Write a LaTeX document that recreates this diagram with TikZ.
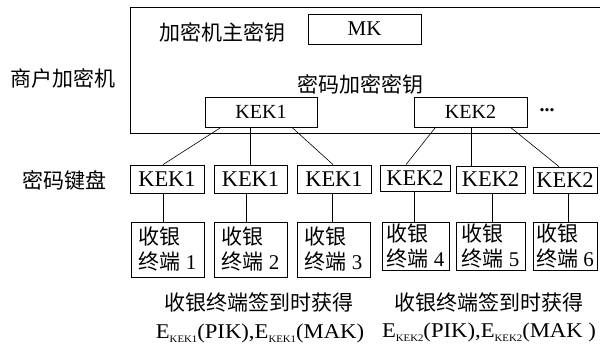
\documentclass[tikz,border=0pt]{standalone}
\usepackage{fontspec}
\usepackage{graphicx}
\setmainfont{Liberation Serif}
\newfontfamily\cjk{Noto Sans CJK SC}
\begin{document}
\begin{tikzpicture}[x=1pt,y=-1pt,
  frame/.style={line width=0.8pt},
  kbox/.style={draw, line width=0.8pt, inner sep=0pt, font=\fontsize{20}{24}\selectfont},
  pbox/.style={kbox, font=\fontsize{22.5}{26}\selectfont},
  tbox/.style={draw, line width=0.8pt, inner sep=0pt, align=left, font=\fontsize{21}{25}\selectfont},
  lbl/.style={inner sep=0pt, font=\cjk\fontsize{21}{25}\selectfont},
  elbl/.style={inner sep=0pt, font=\fontsize{21}{25}\selectfont},
  conn/.style={line width=0.6pt}]
\useasboundingbox (0,0) rectangle (600,347);
% frame of the merchant encryptor
\draw[frame] (600,7) -- (130,7) -- (130,133) -- (600,133);
% labels
\node[lbl] (lmerchant) at (63,78) {商户加密机};
\node[lbl] (lmaster) at (222,32) {加密机主密钥};
\node[lbl] (lkek) at (360,84) {密码加密密钥};
\node[lbl] (lpad) at (65,180) {密码键盘};
% top boxes
\node[kbox, minimum width=113pt, minimum height=30pt, font=\fontsize{21}{24}\selectfont] (mk) at (364.5,29) {MK};
\node[kbox, minimum width=112pt, minimum height=30pt] (k1) at (261,112) {KEK1};
\node[kbox, minimum width=113pt, minimum height=30pt] (k2) at (470.5,112) {KEK2};
\node[inner sep=0pt, font=\bfseries\fontsize{20}{24}\selectfont] (dots) at (547,110) {...};
% pin pad boxes
\node[pbox, minimum width=74pt, minimum height=28pt] (b1) at (167,179) {KEK1};
\node[pbox, minimum width=73pt, minimum height=28pt] (b2) at (250.5,179) {KEK1};
\node[pbox, minimum width=74pt, minimum height=28pt] (b3) at (334,179) {KEK1};
\node[pbox, minimum width=70pt, minimum height=26pt] (b4) at (415,178) {KEK2};
\node[pbox, minimum width=69pt, minimum height=27pt] (b5) at (490.5,179.5) {KEK2};
\node[pbox, minimum width=64pt, minimum height=26pt] (b6) at (565,180) {KEK2};
% terminals
\node[tbox, minimum width=73pt, minimum height=55pt] (t1) at (167.5,249.5) {{\cjk 收银}\\{\cjk 终端} 1};
\node[tbox, minimum width=73pt, minimum height=55pt] (t2) at (250.5,249.5) {{\cjk 收银}\\{\cjk 终端} 2};
\node[tbox, minimum width=73pt, minimum height=55pt] (t3) at (333.5,249.5) {{\cjk 收银}\\{\cjk 终端} 3};
\node[tbox, minimum width=67pt, minimum height=48pt] (t4) at (415.5,246) {{\cjk 收银}\\{\cjk 终端} 4};
\node[tbox, minimum width=69pt, minimum height=48pt] (t5) at (490.5,246) {{\cjk 收银}\\{\cjk 终端} 5};
\node[tbox, minimum width=64pt, minimum height=48pt] (t6) at (565,246) {{\cjk 收银}\\{\cjk 终端} 6};
% bottom captions
\node[lbl] (c1) at (259,302) {收银终端签到时获得};
\node[lbl] (c2) at (489,302) {收银终端签到时获得};
\node[elbl] (e1) at (260,333) {\scalebox{1.08}[1]{E\raisebox{-0.45ex}{\fontsize{10}{10}\selectfont KEK1}(PIK),E\raisebox{-0.45ex}{\fontsize{10}{10}\selectfont KEK1}(MAK)}};
\node[elbl] (e2) at (489,332) {\scalebox{1.08}[1]{E\raisebox{-0.45ex}{\fontsize{10}{10}\selectfont KEK2}(PIK),E\raisebox{-0.45ex}{\fontsize{10}{10}\selectfont KEK2}(MAK )}};
% connectors KEK -> pin pads
\draw[conn] ([xshift=-40pt]k1.south) -- ([xshift=-4pt]b1.north);
\draw[conn] ([xshift=-11pt]k1.south) -- ([xshift=-0.5pt]b2.north);
\draw[conn] ([xshift=31pt]k1.south) -- ([xshift=-1pt]b3.north);
\draw[conn] ([xshift=-35pt]k2.south) -- ([xshift=-9pt]b4.north);
\draw[conn] ([xshift=0.5pt]k2.south) -- ([xshift=-19.5pt]b5.north);
\draw[conn] ([xshift=40pt]k2.south) -- ([xshift=-6pt]b6.north);
% connectors pin pads -> terminals
\draw[conn] ([xshift=-4pt]b1.south) -- ([xshift=-4.5pt]t1.north);
\draw[conn] ([xshift=-4.5pt]b2.south) -- ([xshift=-4.5pt]t2.north);
\draw[conn] ([xshift=-2pt]b3.south) -- ([xshift=-1.5pt]t3.north);
\draw[conn] ([xshift=-1pt]b4.south) -- ([xshift=-1.5pt]t4.north);
\draw[conn] ([xshift=1.5pt]b5.south) -- ([xshift=1.5pt]t5.north);
\draw[conn] ([xshift=3pt]b6.south) -- ([xshift=3pt]t6.north);
\end{tikzpicture}
\end{document}
